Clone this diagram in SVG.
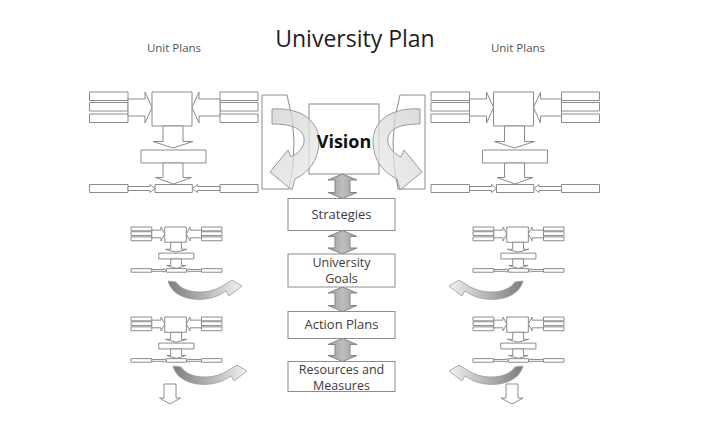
<svg xmlns="http://www.w3.org/2000/svg" xmlns:xlink="http://www.w3.org/1999/xlink" width="718" height="436" viewBox="0 0 718 436">
<style>
.u{fill:#fff;stroke:#8c8c8c;stroke-width:1;vector-effect:non-scaling-stroke}
.box{fill:#fff;stroke:#8c8c8c;stroke-width:1}
.dbl{fill:url(#gDbl);stroke:#858585;stroke-width:1}
.big{fill:url(#gBig);fill-opacity:0.75;stroke:#9a9a9a;stroke-width:1}
.sm{fill:url(#gSm);stroke:#9a9a9a;stroke-width:0.8}
.dn{fill:#fff;stroke:#8c8c8c;stroke-width:1}
.t{font-family:"Open Sans","Noto Sans",sans-serif;fill:#3c3c3c;text-anchor:middle}
</style>
<defs>
<linearGradient id="gDbl" x1="0" y1="0" x2="1" y2="0">
<stop offset="0" stop-color="#a0a0a0"/><stop offset="0.5" stop-color="#bdbdbd"/><stop offset="1" stop-color="#a0a0a0"/>
</linearGradient>
<linearGradient id="gBig" x1="0" y1="0" x2="1" y2="1">
<stop offset="0" stop-color="#cfcfcf"/><stop offset="1" stop-color="#eeeeee"/>
</linearGradient>
<linearGradient id="gSm" x1="0" y1="0" x2="1" y2="0">
<stop offset="0" stop-color="#7d7d7d"/><stop offset="0.5" stop-color="#b5b5b5"/><stop offset="1" stop-color="#f2f2f2"/>
</linearGradient>
<g id="unit">
<rect class="u" x="0" y="0" width="38.5" height="8.5"/>
<rect class="u" x="0" y="10.5" width="38.5" height="8.5"/>
<rect class="u" x="0" y="22" width="38.5" height="8.5"/>
<rect class="u" x="130.5" y="0" width="38" height="8.5"/>
<rect class="u" x="130.5" y="10.5" width="38" height="8.5"/>
<rect class="u" x="130.5" y="22" width="38" height="8.5"/>
<path class="u" d="M38.5,7 H55.5 V0 L62.5,15.5 L55.5,31 V24 H38.5 Z"/>
<path class="u" d="M130.5,7 H109.5 V0 L102.5,15.5 L109.5,31 V24 H130.5 Z"/>
<rect class="u" x="62.5" y="0" width="40" height="34"/>
<path class="u" d="M73.5,34 V49.5 H63.5 L83.5,56 L103.5,49.5 H93.5 V34 Z"/>
<rect class="u" x="51.5" y="58" width="65" height="13"/>
<path class="u" d="M73.5,71 V85.5 H66 L84,92 L102,85.5 H93.5 V71 Z"/>
<rect class="u" x="0" y="92.5" width="38.5" height="8"/>
<rect class="u" x="130.5" y="92.5" width="38" height="8"/>
<path class="u" d="M38.5,94.5 H60.5 V92.5 L65.5,96.5 L60.5,100.5 V98.5 H38.5 Z"/>
<path class="u" d="M130.5,94.5 H108 V92.5 L102.8,96.5 L108,100.5 V98.5 H130.5 Z"/>
<rect class="u" x="65.5" y="92.5" width="37.3" height="8"/>
</g>
<path id="bigArrow" class="big" d="M272,109 C302,107 320,122 319,143 C318,161 309,172 295,179 L292,190 L270,172 L288,150 L291,157 C301,152 305,145 304,138 C302,128 291,124 272,124 Z"/>
<path id="tall" class="box" d="M262,95 L287,95 Q300,140 289,189 L262,189 Z"/>
<path id="smArrow" class="sm" d="M168,281 C172,296 190,301 205,299 C214,298 220,295 226,291 L229,296 L242,286 L232,280 L224,285 C216,290 208,292 200,292 C188,292 180,288 176,282 Z"/>
</defs>
<rect width="718" height="436" fill="#fff"/>
<g id="title">
<text class="t" x="355" y="46.5" font-size="23" style="fill:#1e1e1e">University Plan</text>
</g>
<g id="unit-plans-left-label"><text class="t" x="174" y="51.5" font-size="11.5" style="fill:#555">Unit Plans</text></g>
<g id="unit-plans-right-label"><text class="t" x="518" y="51.5" font-size="11.5" style="fill:#555">Unit Plans</text></g>
<g id="unit-left-large"><use xlink:href="#unit" transform="translate(89.5,92)"/></g>
<g id="unit-right-large"><use xlink:href="#unit" transform="translate(431,92)"/></g>
<g id="unit-left-1"><use xlink:href="#unit" transform="translate(131,227) scale(0.54,0.45)"/></g>
<g id="unit-left-2"><use xlink:href="#unit" transform="translate(131,317) scale(0.54,0.45)"/></g>
<g id="unit-right-1"><use xlink:href="#unit" transform="translate(473,227) scale(0.54,0.45)"/></g>
<g id="unit-right-2"><use xlink:href="#unit" transform="translate(473,317) scale(0.54,0.45)"/></g>
<g id="frame-left"><use xlink:href="#tall"/></g>
<g id="frame-right"><use xlink:href="#tall" transform="translate(687,0) scale(-1,1)"/></g>
<g id="vision">
<rect class="box" x="309" y="104" width="70" height="70"/>
</g>
<g id="connectors">
<use xlink:href="#bigArrow"/>
<use xlink:href="#bigArrow" transform="translate(692,0) scale(-1,1)"/>
<path class="dbl" d="M335,180 H328 L342.5,174 L357,180 H350 V192.5 H357 L342.5,198.5 L328,192.5 H335 Z"/>
<path class="dbl" d="M335,236.5 H328 L342.5,230.5 L357,236.5 H350 V248 H357 L342.5,254 L328,248 H335 Z"/>
<path class="dbl" d="M335,293 H328 L342.5,287 L357,293 H350 V305.5 H357 L342.5,311.5 L328,305.5 H335 Z"/>
<path class="dbl" d="M335,344.5 H328 L342.5,338.5 L357,344.5 H350 V355.5 H357 L342.5,361.5 L328,355.5 H335 Z"/>
<use xlink:href="#smArrow"/>
<use xlink:href="#smArrow" transform="translate(5,85)"/>
<use xlink:href="#smArrow" transform="translate(691,0) scale(-1,1)"/>
<use xlink:href="#smArrow" transform="translate(696,0) scale(-1,1) translate(5,85)"/>
<path class="dn" d="M164,384 H176 V398 H180.5 L170,404 L159.5,398 H164 Z"/>
<path class="dn" d="M506,384 H518 V398 H523 L512,404 L501,398 H506 Z"/>
</g>
<g id="vision-label"><text class="t" x="344" y="148" font-size="18" font-weight="bold" style="fill:#111">Vision</text></g>
<g id="strategies">
<rect class="box" x="288" y="198.5" width="107" height="32"/>
<text class="t" x="341.5" y="219.3" font-size="13">Strategies</text>
</g>
<g id="university-goals">
<rect class="box" x="288" y="254" width="107" height="33"/>
<text class="t" x="341.5" y="267" font-size="12.5">University</text>
<text class="t" x="341.5" y="283" font-size="12.5">Goals</text>
</g>
<g id="action-plans">
<rect class="box" x="288" y="311.5" width="107" height="27"/>
<text class="t" x="341.5" y="329.3" font-size="13">Action Plans</text>
</g>
<g id="resources-measures">
<rect class="box" x="288" y="361.5" width="107" height="30"/>
<text class="t" x="341.5" y="374" font-size="12.5">Resources and</text>
<text class="t" x="341.5" y="390" font-size="12.5">Measures</text>
</g>
</svg>
